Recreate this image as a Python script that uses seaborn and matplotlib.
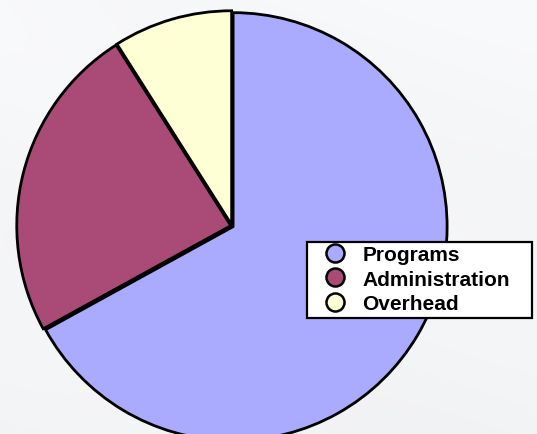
import matplotlib
matplotlib.use("Agg")
import matplotlib.pyplot as plt
import seaborn as sns
import numpy as np
from matplotlib.lines import Line2D
from matplotlib.patches import Rectangle

categories = ["Programs", "Administration", "Overhead"]
values = [67, 24, 9]
colors = ["#aaaafe", "#a94b76", "#ffffd6"]

sns.set_theme(style="white")
plt.rcParams["font.family"] = ["Liberation Sans", "DejaVu Sans"]
palette = sns.color_palette(colors)

W, H = 537, 435
fig = plt.figure(figsize=(W / 100, H / 100), dpi=100)
fig.patch.set_facecolor("#f5f6f8")

# subtle background gradient (lighter at top)
bg = fig.add_axes([0, 0, 1, 1], zorder=0)
yy, xx = np.mgrid[0:1:200j, 0:1:200j]
grad = 0.952 + 0.02 * yy + 0.004 * np.sin(xx * 6 + yy * 9)
rgb = np.dstack([grad, grad + 0.003, grad + 0.008]).clip(0, 1)
bg.imshow(rgb, aspect="auto", extent=[0, 1, 0, 1], origin="lower")
bg.axis("off")

ax = fig.add_axes([(232 - 214) / W, (H - 227 - 214) / H, 428 / W, 428 / H], zorder=1)
ax.pie(values, colors=palette, startangle=90, counterclock=False,
       explode=[0.006, 0.006, 0.006],
       wedgeprops=dict(edgecolor="black", linewidth=2))
ax.set_xlim(-1.0, 1.0)
ax.set_ylim(-1.0, 1.0)
ax.set_aspect("auto")
ax.axis("off")

# legend box
box = Rectangle((307 / W, 1 - 319 / H), (532 - 307) / W, (319 - 243) / H,
                transform=fig.transFigure, facecolor="white", edgecolor="black",
                linewidth=1.6, zorder=4)
fig.patches.append(box)

handles = [Line2D([0], [0], marker="o", linestyle="none", markersize=13,
                  markerfacecolor=c, markeredgecolor="black", markeredgewidth=1.8)
           for c in colors]
leg = fig.legend(handles, categories, loc="upper left",
                 bbox_to_anchor=(319 / W, 1 - 246 / H), bbox_transform=fig.transFigure,
                 frameon=False, borderaxespad=0, borderpad=0,
                 prop=dict(weight="bold", size=15), labelspacing=0.27,
                 handletextpad=0.58, handlelength=1.5)
for t in leg.get_texts():
    t.set_color("black")
leg.set_zorder(5)

fig.savefig("out.png", dpi=100, facecolor=fig.get_facecolor())
